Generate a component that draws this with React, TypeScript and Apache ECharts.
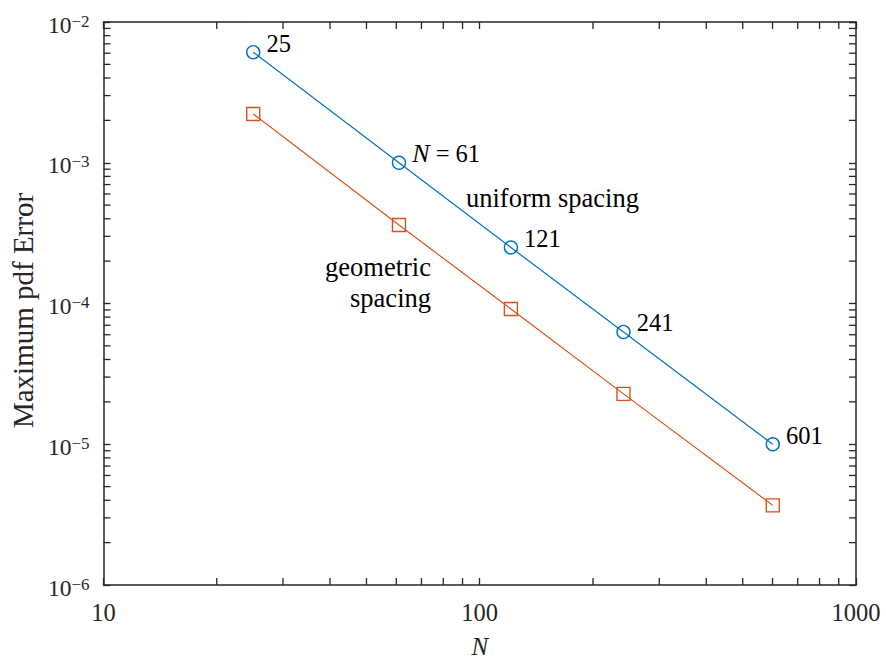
import React, { useEffect, useRef } from "react";
import * as echarts from "echarts";

const nValues = [25, 61, 121, 241, 601];
const uniformError = [6.1e-3, 1.0e-3, 2.5e-4, 6.28e-5, 1.0e-5];
const geometricError = [2.22e-3, 3.61e-4, 9.14e-5, 2.28e-5, 3.68e-6];
const pointLabels = ["25", "{i|N} = 61", "121", "241", "601"];
const xTickLabels = ["10", "100", "1000"];
const xMinorTicks = [20, 30, 40, 50, 60, 70, 80, 90, 200, 300, 400, 500, 600, 700, 800, 900];
const yMinorTicks = [
  2e-6, 3e-6, 4e-6, 5e-6, 6e-6, 7e-6, 8e-6, 9e-6,
  2e-5, 3e-5, 4e-5, 5e-5, 6e-5, 7e-5, 8e-5, 9e-5,
  2e-4, 3e-4, 4e-4, 5e-4, 6e-4, 7e-4, 8e-4, 9e-4,
  2e-3, 3e-3, 4e-3, 5e-3, 6e-3, 7e-3, 8e-3, 9e-3,
];

const FONT = "'Liberation Serif', 'Times New Roman', Times, serif";
const AXIS = "#262626";
const BLUE = "#0072BD";
const ORANGE = "#D95319";

export default function App() {
  const ref = useRef<HTMLDivElement>(null);
  useEffect(() => {
    if (!ref.current) return;
    const chart = echarts.init(ref.current, undefined, { renderer: "svg" });
    const axisLine = { show: true, lineStyle: { color: AXIS, width: 1.5 } };
    const axisTick = { show: true, inside: true, length: 7, lineStyle: { color: AXIS, width: 1.3 } };
    const xLabel = {
      fontFamily: FONT,
      fontSize: 24.5,
      color: AXIS,
      margin: 15,
      formatter: (v: number) => {
        const e = Math.round(Math.log10(v));
        return xTickLabels[e - 1] ?? String(v);
      },
    };
    const yLabel = {
      margin: 14,
      padding: [5, 0, 0, 0],
      fontFamily: FONT,
      fontSize: 24,
      color: AXIS,
      formatter: (v: number) => {
        const e = Math.round(Math.log10(v));
        return `{b|10}{s|\u2212${Math.abs(e)}}`;
      },
      rich: {
        b: { fontFamily: FONT, fontSize: 23.5, lineHeight: 24, color: AXIS, verticalAlign: "bottom", padding: [5, 0, 0, 0] },
        s: { fontFamily: FONT, fontSize: 17, lineHeight: 17, color: AXIS, verticalAlign: "top" },
      },
    };
    const labelCommon = {
      show: true,
      position: "right",
      distance: 5,
      offset: [1, -9],
      fontFamily: FONT,
      fontSize: 24.5,
      color: "#000",
      rich: { i: { fontFamily: FONT, fontSize: 26, fontStyle: "italic", color: "#000" } },
    };
    chart.setOption({
      animation: false,
      backgroundColor: "#fff",
      textStyle: { fontFamily: FONT },
      grid: { left: 102, top: 22, right: 30, bottom: 77 },
      xAxis: [
        {
          type: "log", logBase: 10, min: 10, max: 1000, position: "bottom",
          axisLine, axisTick, axisLabel: xLabel, splitLine: { show: false },
          name: "N", nameLocation: "middle", nameGap: 49,
          nameTextStyle: { fontFamily: FONT, fontSize: 25, fontStyle: "italic", color: AXIS },
        },
        {
          type: "log", logBase: 10, min: 10, max: 1000, position: "top",
          axisLine, axisTick, axisLabel: { show: false }, splitLine: { show: false },
        },
      ],
      yAxis: [
        {
          type: "log", logBase: 10, min: 1e-6, max: 1e-2, position: "left",
          axisLine, axisTick, axisLabel: yLabel, splitLine: { show: false },
          name: "Maximum pdf Error", nameLocation: "middle", nameGap: 65, nameRotate: 90,
          nameTextStyle: { fontFamily: FONT, fontSize: 29, color: AXIS, padding: [0, 14, 0, 0] },
        },
        {
          type: "log", logBase: 10, min: 1e-6, max: 1e-2, position: "right",
          axisLine, axisTick, axisLabel: { show: false }, splitLine: { show: false },
        },
      ],
      series: [
        {
          type: "custom",
          xAxisIndex: 0,
          yAxisIndex: 0,
          silent: true,
          clip: false,
          z: 1,
          encode: { x: 0, y: 1 },
          data: [
            ...xMinorTicks.map((v) => [v, 1e-6, 0]),
            ...yMinorTicks.map((v) => [10, v, 1]),
          ],
          renderItem: (_params: any, api: any) => {
            const kind = api.value(2);
            const bl = api.coord([10, 1e-6]);
            const tr = api.coord([1000, 1e-2]);
            const p = api.coord([api.value(0), api.value(1)]);
            const L = 7;
            const style = { stroke: AXIS, lineWidth: 1.3 };
            if (kind === 0) {
              return {
                type: "group",
                children: [
                  { type: "line", shape: { x1: p[0], y1: bl[1], x2: p[0], y2: bl[1] - L }, style },
                  { type: "line", shape: { x1: p[0], y1: tr[1], x2: p[0], y2: tr[1] + L }, style },
                ],
              };
            }
            return {
              type: "group",
              children: [
                { type: "line", shape: { x1: bl[0], y1: p[1], x2: bl[0] + L, y2: p[1] }, style },
                { type: "line", shape: { x1: tr[0], y1: p[1], x2: tr[0] - L, y2: p[1] }, style },
              ],
            };
          },
        },
        {
          name: "uniform spacing",
          type: "line",
          z: 3,
          data: nValues.map((n, i) => [n, uniformError[i]]),
          symbol: "circle",
          symbolSize: 13,
          lineStyle: { color: BLUE, width: 1.2 },
          itemStyle: { color: "rgba(0,0,0,0)", borderColor: BLUE, borderWidth: 1.4 },
          label: { ...labelCommon, formatter: (p: any) => pointLabels[p.dataIndex] },
        },
        {
          name: "geometric spacing",
          type: "line",
          z: 3,
          data: nValues.map((n, i) => [n, geometricError[i]]),
          symbol: "rect",
          symbolSize: 13,
          lineStyle: { color: ORANGE, width: 1.2 },
          itemStyle: { color: "rgba(0,0,0,0)", borderColor: ORANGE, borderWidth: 1.4 },
        },
      ],
      graphic: [
        {
          type: "text",
          left: 466,
          top: 184,
          style: { text: "uniform spacing", fontFamily: FONT, fontSize: 26.5, fill: "#000" },
        },
        {
          type: "text",
          x: 431,
          y: 251,
          style: {
            text: "geometric\nspacing",
            fontFamily: FONT,
            fontSize: 26.5,
            lineHeight: 31,
            align: "right",
            fill: "#000",
          },
        },
      ],
    });
    return () => chart.dispose();
  }, []);
  return (
    <div
      ref={ref}
      style={{ position: "fixed", left: 0, top: 0, width: 886, height: 664 }}
    />
  );
}
